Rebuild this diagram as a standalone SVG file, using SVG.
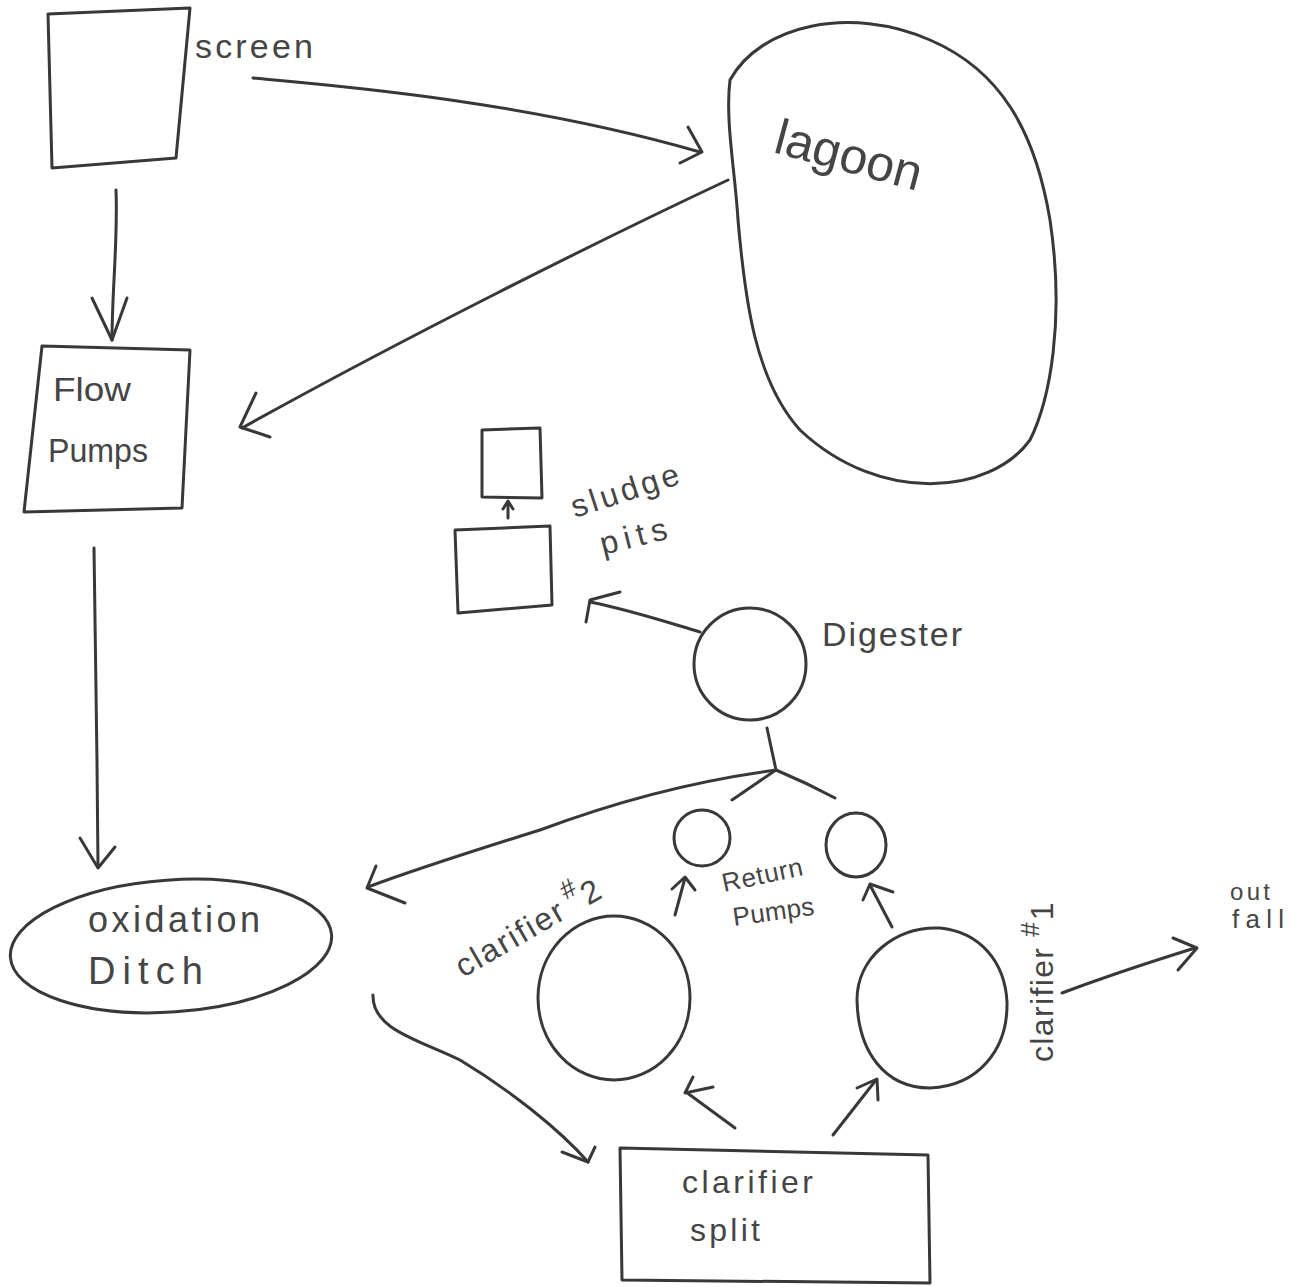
<svg xmlns="http://www.w3.org/2000/svg" width="1289" height="1287" viewBox="0 0 1289 1287">
<style>
.s{fill:none;stroke:#383838;stroke-width:3;stroke-linecap:round;stroke-linejoin:round}
.t{font-family:"Liberation Sans","DejaVu Sans",sans-serif;fill:#454545}
</style>
<rect width="1289" height="1287" fill="#ffffff"/>
<g id="connectors">
  <path class="s" d="M253,78 C330,85 520,100 700,152"/>
  <path class="s" d="M688,127 L702,152 L680,163"/>
  <path class="s" d="M728,180 C600,240 400,340 242,428"/>
  <path class="s" d="M256,393 L240,427 L270,437"/>
  <path class="s" d="M116,190 C118,240 112,290 112,340"/>
  <path class="s" d="M92,298 L112,340 L127,298"/>
  <path class="s" d="M94,548 C96,650 97,760 98,866"/>
  <path class="s" d="M80,838 L98,868 L115,847"/>
  <path class="s" d="M700,632 C660,620 630,610 590,602"/>
  <path class="s" d="M620,592 L590,600 L586,622"/>
  <path class="s" d="M508,518 L508,502"/>
  <path class="s" d="M503,509 L508,501 L513,509"/>
  <path class="s" d="M767,728 L776,770"/>
  <path class="s" d="M776,770 C700,780 620,800 540,830 C460,855 400,875 368,887"/>
  <path class="s" d="M376,866 L367,888 L405,903"/>
  <path class="s" d="M776,770 L732,800"/>
  <path class="s" d="M776,770 C800,780 820,790 835,798"/>
  <path class="s" d="M675,915 L685,878"/>
  <path class="s" d="M672,889 L685,877 L695,890"/>
  <path class="s" d="M892,927 L870,885"/>
  <path class="s" d="M863,900 L870,884 L893,892"/>
  <path class="s" d="M373,995 C372,1030 420,1040 460,1060 C510,1090 560,1130 588,1162"/>
  <path class="s" d="M562,1152 L588,1162 L595,1147"/>
  <path class="s" d="M735,1128 L686,1092"/>
  <path class="s" d="M693,1077 L685,1093 L713,1087"/>
  <path class="s" d="M833,1135 L876,1080"/>
  <path class="s" d="M857,1088 L877,1079 L878,1100"/>
  <path class="s" d="M1062,993 C1110,975 1150,962 1195,948"/>
  <path class="s" d="M1173,938 L1197,948 L1178,970"/>
</g>
<g id="screen">
  <path class="s" d="M48,14 L190,8 L176,158 L52,168 Z"/>
  <text class="t" x="195" y="58" font-size="34" textLength="118" lengthAdjust="spacing">screen</text>
</g>
<g id="lagoon">
  <path class="s" d="M730,80 C760,25 850,5 930,40 C1000,70 1035,130 1050,220 C1065,320 1050,400 1030,440 C990,495 880,505 800,430 C755,380 745,300 738,220 C735,170 725,120 730,80 Z"/>
  <text class="t" x="772" y="152" font-size="50" transform="rotate(15 772 152)">lagoon</text>
</g>
<g id="flow-pumps">
  <path class="s" d="M42,346 L190,350 L182,508 L24,512 Z"/>
  <text class="t" x="53" y="401" font-size="34" textLength="78" lengthAdjust="spacingAndGlyphs">Flow</text>
  <text class="t" x="48" y="462" font-size="34" textLength="100" lengthAdjust="spacingAndGlyphs">Pumps</text>
</g>
<g id="oxidation-ditch">
  <ellipse class="s" cx="171" cy="946" rx="161" ry="66" transform="rotate(-4 171 946)"/>
  <text class="t" x="88" y="932" font-size="36" textLength="172" lengthAdjust="spacing">oxidation</text>
  <text class="t" x="88" y="984" font-size="38" textLength="115" lengthAdjust="spacing">Ditch</text>
</g>
<g id="sludge-pits">
  <path class="s" d="M482,430 L540,428 L542,498 L482,497 Z"/>
  <path class="s" d="M455,530 L550,526 L552,605 L458,613 Z"/>
  <text class="t" x="575" y="518" font-size="32" textLength="112" lengthAdjust="spacing" transform="rotate(-18 575 518)">sludge</text>
  <text class="t" x="603" y="555" font-size="32" textLength="68" lengthAdjust="spacing" transform="rotate(-14 603 555)">pits</text>
</g>
<g id="digester">
  <circle class="s" cx="750" cy="664" r="56"/>
  <text class="t" x="822" y="646" font-size="34" textLength="140" lengthAdjust="spacing">Digester</text>
</g>
<g id="return-pumps">
  <circle class="s" cx="702" cy="838" r="28"/>
  <ellipse class="s" cx="856" cy="845" rx="30" ry="32"/>
  <text class="t" x="724" y="892" font-size="26" textLength="82" lengthAdjust="spacing" transform="rotate(-12 724 892)">Return</text>
  <text class="t" x="734" y="926" font-size="26" textLength="82" lengthAdjust="spacing" transform="rotate(-8 734 926)">Pumps</text>
</g>
<g id="clarifier-2">
  <ellipse class="s" cx="614" cy="998" rx="76" ry="82"/>
  <text class="t" x="463" y="978" font-size="32" transform="rotate(-30 463 978)"><tspan textLength="120" lengthAdjust="spacing">clarifier</tspan><tspan dx="6" dy="-16" font-size="26">#</tspan><tspan dx="2" dy="16">2</tspan></text>
</g>
<g id="clarifier-1">
  <path class="s" d="M940,928 C980,932 1005,962 1007,1002 C1008,1050 978,1086 930,1088 C885,1088 858,1052 857,1000 C857,958 895,926 940,928 Z"/>
  <text class="t" x="1053" y="1062" font-size="32" transform="rotate(-90 1053 1062)"><tspan textLength="114" lengthAdjust="spacing">clarifier</tspan><tspan dx="10" dy="-14" font-size="26">#</tspan><tspan dx="2" dy="14">1</tspan></text>
</g>
<g id="clarifier-split">
  <path class="s" d="M620,1148 L928,1155 L930,1283 L622,1280 Z"/>
  <text class="t" x="682" y="1193" font-size="32" textLength="131" lengthAdjust="spacing">clarifier</text>
  <text class="t" x="690" y="1241" font-size="32" textLength="70" lengthAdjust="spacing">split</text>
</g>
<g id="outfall">
  <text class="t" x="1230" y="900" font-size="24" textLength="40" lengthAdjust="spacing">out</text>
  <text class="t" x="1232" y="928" font-size="26" textLength="52" lengthAdjust="spacing">fall</text>
</g>
</svg>
